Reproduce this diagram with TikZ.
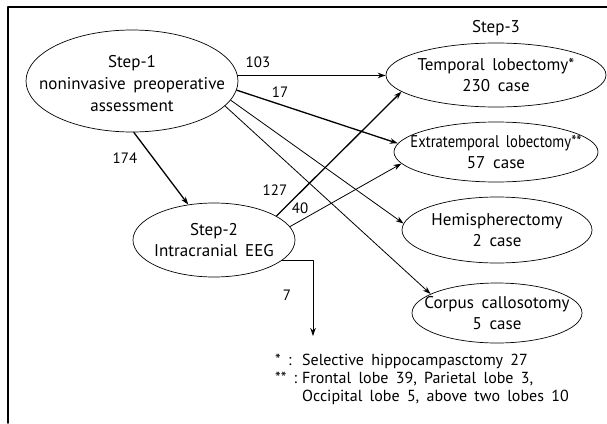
\documentclass[tikz,border=0pt]{standalone}
\usepackage{fontspec}
\setmainfont{PT Sans}[WordSpace=1.7]
\usetikzlibrary{arrows.meta,shapes.geometric}

\begin{document}
\begin{tikzpicture}[x=1pt, y=-1pt, line cap=round, line join=round,
    >={Stealth[length=8pt, width=5.5pt]},
    oval/.style={draw, ellipse, line width=0.7pt, inner sep=0pt},
    txt/.style={align=center, inner sep=0pt, font=\fontsize{17}{21}\selectfont},
    num/.style={inner sep=0pt, font=\fontsize{15}{17}\selectfont},
    heavy/.style={->, line width=1.3pt},
    light/.style={->, line width=0.8pt}]
    \useasboundingbox (0,0) rectangle (607,423);
    \draw[line width=1.5pt] (8,423) -- (8,7) -- (607,7);

    % ovals
    \node[oval, minimum width=212pt, minimum height=102pt] (s1) at (132,81) {};
    \node[oval, minimum width=162pt, minimum height=74pt]  (s2) at (214,240) {};
    \node[oval, minimum width=220pt, minimum height=64pt]  (tl) at (496,75) {};
    \node[oval, minimum width=204pt, minimum height=60pt]  (el) at (496,152) {};
    \node[oval, minimum width=190pt, minimum height=66pt]  (hs) at (497,230) {};
    \node[oval, minimum width=170pt, minimum height=60pt]  (cc) at (497,313) {};

    \node[txt, font=\fontsize{17}{22}\selectfont] (s1t) at (132,84) {Step-1\\noninvasive preoperative\\assessment};
    \node[txt] (s2t) at (s2) {Step-2\\Intracranial EEG};
    \node[txt] (tlt) at (tl) {Temporal lobectomy*\\230 case};
    \node[txt] (elt) at (el) {\scalebox{0.86}[1]{Extratemporal lobectomy**}\\57 case};
    \node[txt] (hst) at (hs) {Hemispherectomy\\2 case};
    \node[txt] (cct) at (cc) {Corpus callosotomy\\5 case};
    \node[txt] (s3) at (496,28) {Step-3};

    % arrows
    \draw[heavy] (s1.3) -- (s1.3 -| tl.west);
    \draw[heavy] (s1.-5) -- (el.175);
    \draw[heavy] (s1.-88) -- (s2.126);
    \draw[light] (s1.-11) -- (hs.176);
    \draw[light] (s1.-15) -- (cc.164);
    \draw[heavy] (s2.21) -- (tl.190);
    \draw[light] (s2.10) -- (el.187);
    \coordinate (c7) at (313,336);
    \draw[light] (s2.-17) -| (c7);

    \node[num] (n103) at (258,62) {103};
    \node[num] (n17) at (280,92) {17};
    \node[num] (n174) at (125,158) {174};
    \node[num] (n127) at (275,190) {127};
    \node[num] (n40) at (300,208) {40};
    \node[num] (n7) at (287,295) {7};

    \node[align=left, anchor=north west, inner sep=0pt, font=\fontsize{16}{18}\selectfont] (note) at (275,354)
      {\makebox[27pt][l]{* :}Selective hippocampasctomy 27\\
       \makebox[27pt][l]{** :}Frontal lobe 39, Parietal lobe 3,\\
       \hspace*{27pt}Occipital lobe 5, above two lobes 10};
\end{tikzpicture}
\end{document}
